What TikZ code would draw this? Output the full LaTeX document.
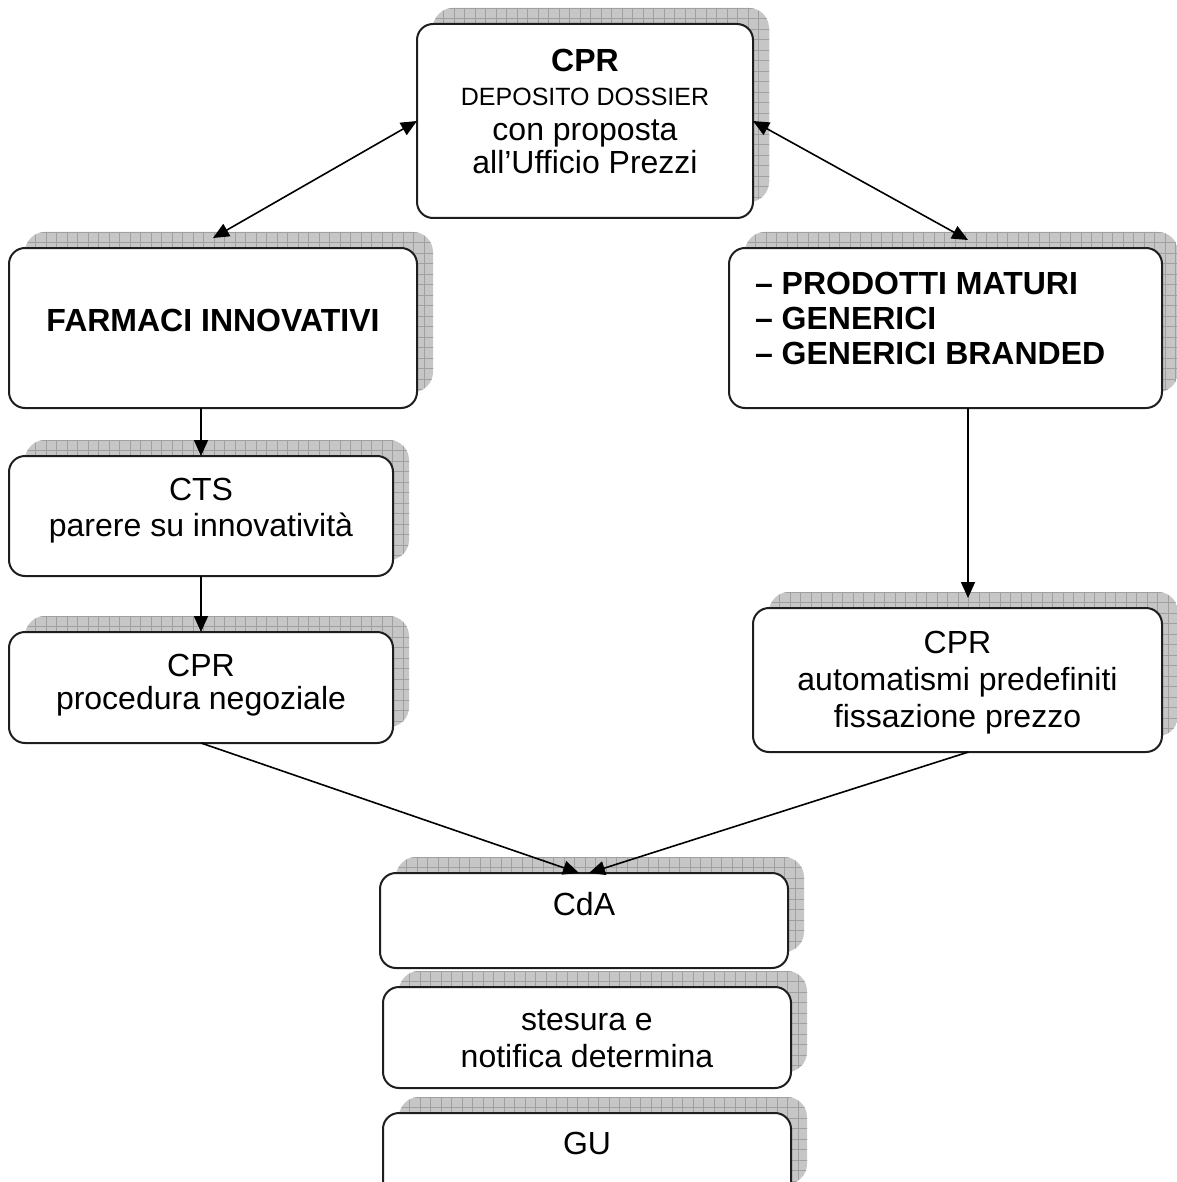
\documentclass[tikz,border=0pt]{standalone}
\usepackage{fontspec}
\setmainfont{Liberation Sans}
\usetikzlibrary{arrows.meta,calc}

\definecolor{shfill}{RGB}{198,198,198}
\definecolor{shgrid}{RGB}{160,160,160}
\definecolor{edge}{RGB}{30,30,30}

\tikzset{
  flowbox/.style={draw=edge, line width=2pt, rounded corners=16pt, fill=white,
    inner sep=0pt, outer sep=0pt, font=\fontsize{32}{36}\selectfont},
  gridline/.style={draw=shgrid, line width=0.6pt},
  link/.style={draw=black, line width=1.6pt, -{Triangle[length=16pt,width=14pt]}},
  duallink/.style={draw=black, line width=1.6pt,
    {Triangle[length=16pt,width=14pt]}-{Triangle[length=16pt,width=14pt]}},
}

% gridded drop shadow, offset up and to the right
\newcommand\gridshadow[4]{%
  \begin{scope}
    \clip[rounded corners=20pt] (#1+16,#2-16) rectangle (#3+16,#4-16);
    \fill[shfill] (#1,#2-20) rectangle (#3+20,#4);
    \foreach \g in {0,10.5,...,450} {
      \draw[gridline] (#1+16+\g,#2-20) -- (#1+16+\g,#4);
      \draw[gridline] (#1,#2-16+\g) -- (#3+20,#2-16+\g);
    }
  \end{scope}}

% box: name, x1, y1, x2, y2, lift of first baseline above centre, content
\newcommand\flowbox[7]{%
  \gridshadow{#2}{#3}{#4}{#5}
  \node[flowbox, minimum width={(#4-#2)*1pt}, minimum height={(#5-#3)*1pt}]
    (#1) at ({(#2+#4)/2},{(#3+#5)/2}) {\raisebox{#6pt}[0pt][0pt]{#7}};}

\begin{document}
\begin{tikzpicture}[x=1pt,y=-1pt]
\useasboundingbox (0,0) rectangle (1176,1182);

\flowbox{dep}{417}{24}{753}{218}{49}{\fontsize{32}{34}\selectfont
  \begin{tabular}[t]{@{}c@{}}\textbf{CPR}\\
  {\fontsize{25}{30}\selectfont DEPOSITO DOSSIER}\\[1pt]
  con proposta\\[-1pt]
  all’Ufficio Prezzi\end{tabular}}

\flowbox{farm}{9}{248}{417}{408}{-3}{\textbf{FARMACI INNOVATIVI}}

\flowbox{mat}{729}{248}{1162}{408}{34}{\makebox[381pt][l]{\fontsize{32}{35}\selectfont
  \begin{tabular}[t]{@{}l@{}}\textbf{– PRODOTTI MATURI}\\
  \textbf{– GENERICI}\\
  \textbf{– GENERICI BRANDED}\end{tabular}}}

\flowbox{cts}{9}{456}{393}{576}{16}{\begin{tabular}[t]{@{}c@{}}CTS\\
  parere su innovatività\end{tabular}}

\flowbox{neg}{9}{632}{393}{743}{11.5}{\begin{tabular}[t]{@{}c@{}}CPR\\[-3pt]
  procedura negoziale\end{tabular}}

\flowbox{auto}{753}{608}{1162}{752}{27}{\fontsize{32}{37}\selectfont
  \begin{tabular}[t]{@{}c@{}}CPR\\
  automatismi predefiniti\\
  fissazione prezzo\end{tabular}}

\flowbox{cda}{380}{873}{788}{968}{5.5}{CdA}

\flowbox{det}{383}{987}{791}{1088}{7.5}{\fontsize{32}{37}\selectfont
  \begin{tabular}[t]{@{}c@{}}stesura e\\
  notifica determina\end{tabular}}

\flowbox{gu}{383}{1113}{791}{1200}{2.5}{GU}

% connectors
\coordinate (matout) at ([xshift=22.5pt]mat.south);
\draw[duallink] (dep.west) -- ([yshift=10pt]farm.north);
\draw[duallink] (dep.east) -- ([xshift=22.5pt,yshift=8pt]mat.north);
\draw[link] (farm.south -| cts.north) -- (cts.north);
\draw[link] (cts.south) -- (neg.north);
\draw[link] (matout) -- ($(matout |- auto.north)+(0,-10)$);
\draw[link] (neg.south) -- ([xshift=-5pt]cda.north);
\draw[link] ([xshift=11pt]auto.south) -- ([xshift=5pt]cda.north);
\end{tikzpicture}
\end{document}
